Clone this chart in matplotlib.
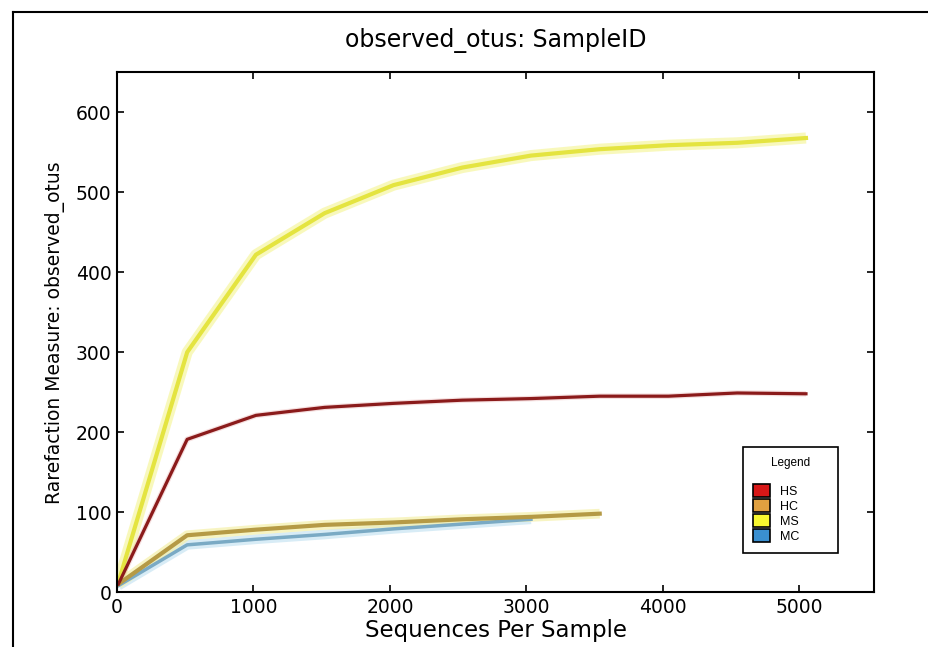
import matplotlib
matplotlib.use('Agg')
import matplotlib.pyplot as plt
from matplotlib.patches import Patch
from matplotlib.lines import Line2D

# rarefaction depths (10 to 5050, 10 steps)
depths = [10, 514, 1018, 1522, 2026, 2530, 3034, 3538, 4042, 4546, 5050]

# observed otus per group
hs = [10, 191, 221, 231, 236, 240, 242, 245, 245, 249, 248]
hc = [10, 71, 78, 84, 87, 91, 94, 98]
ms = [12, 300, 422, 474, 509, 531, 546, 554, 559, 562, 568]
mc = [8, 59, 66, 72, 79, 85, 91]

groups = ['HS', 'HC', 'MS', 'MC']
legend_colors = ['#d81818', '#e0a040', '#f8f830', '#3a8fd0']

fig = plt.figure(figsize=(9.29, 6.47), dpi=100)
ax = fig.add_axes([0.126, 0.085, 0.815, 0.803])

# soft halo under each line (error band look)
ax.plot(depths[:len(mc)], mc, color='#bfe0f0', lw=7, alpha=0.6, solid_capstyle='butt')
ax.plot(depths[:len(hc)], hc, color='#f5f0a8', lw=7, alpha=0.7, solid_capstyle='butt')
ax.plot(depths, ms, color='#f6f6a0', lw=8, alpha=0.7, solid_capstyle='butt')
ax.plot(depths, hs, color='#e8b0b0', lw=4, alpha=0.4, solid_capstyle='butt')

ax.plot(depths[:len(mc)], mc, color='#7aaac4', lw=2.5)
ax.plot(depths[:len(hc)], hc, color='#b59a45', lw=3)
ax.plot(depths, ms, color='#e4e440', lw=3)
ax.plot(depths, hs, color='#8b1b1b', lw=2.3)

ax.set_xlim(0, 5550)
ax.set_ylim(0, 650)
ax.set_xticks([0, 1000, 2000, 3000, 4000, 5000])
ax.set_yticks([0, 100, 200, 300, 400, 500, 600])
ax.tick_params(direction='in', top=True, right=True, length=5, width=1.2, labelsize=13.5, pad=4)
for s in ax.spines.values():
    s.set_linewidth(1.5)

ax.set_title('observed_otus: SampleID', fontsize=17, pad=18)
ax.set_xlabel('Sequences Per Sample', fontsize=16.5, labelpad=2)
ax.set_ylabel('Rarefaction Measure: observed_otus', fontsize=13.5, labelpad=8)

handles = [Patch(facecolor=c, edgecolor='black', linewidth=1.2) for c in legend_colors]
leg = ax.legend(handles, groups, title='Legend\n', loc='lower left',
                bbox_to_anchor=(0.827, 0.075, 0.125, 0.2), mode='expand',
                prop={'family': 'Liberation Sans', 'size': 9},
                title_fontproperties={'family': 'Liberation Sans', 'size': 8.5},
                fancybox=False, framealpha=1, edgecolor='black',
                handlelength=1.35, handleheight=1.2, handletextpad=0.8, labelspacing=0.12,
                borderpad=0.8, borderaxespad=0)
leg.get_frame().set_linewidth(1.2)

# outer frame of the screenshot
fig.add_artist(Line2D([13 / 929, 13 / 929], [0, 1 - 12 / 647], color='black', lw=1.5, transform=fig.transFigure))
fig.add_artist(Line2D([13 / 929, 1], [1 - 12 / 647, 1 - 12 / 647], color='black', lw=1.5, transform=fig.transFigure))

fig.savefig('out.png', dpi=100)
